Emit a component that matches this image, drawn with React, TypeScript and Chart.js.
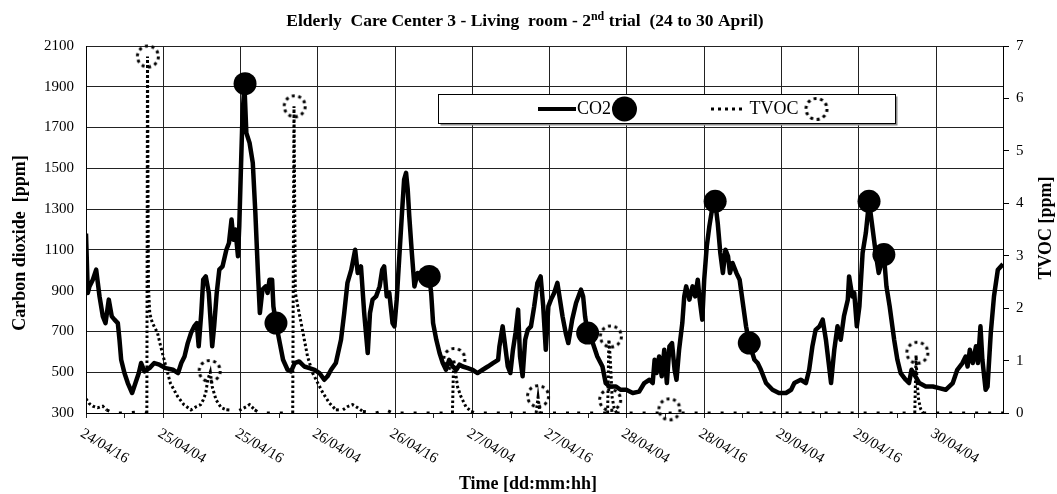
import { useEffect, useRef } from 'react';
import { Chart, registerables } from 'chart.js';

Chart.register(...registerables);

const FONT = '"Liberation Serif", "Times New Roman", serif';

// Hours since 24/04 16:00
const co2Hours = [
  0, 0.28, 0.54, 1.06, 1.58, 2.1, 2.61, 3.03, 3.54, 4.0, 4.42, 4.94, 5.2, 5.46, 5.97, 6.49, 7.16, 7.68, 8.2, 8.56,
  9.08, 9.86, 10.6, 11.4, 12.4, 13.5, 14.3, 14.8, 15.3, 15.8, 16.3, 16.8, 17.2, 17.5, 17.9, 18.2, 18.6, 19.07, 19.6, 19.9,
  20.3, 20.7, 21.2, 21.8, 22.2, 22.6, 22.9, 23.2, 23.6, 23.8, 24.1, 24.3, 24.6, 24.9, 25.4, 25.9, 26.3, 26.7, 27.0, 27.4,
  27.9, 28.2, 28.5, 28.9, 29.1, 29.5, 30.0, 30.6, 31.3, 31.85, 32.4, 33.1, 33.9, 34.7, 35.5, 36.25, 37.0, 37.5, 38.06, 38.8,
  39.6, 40.1, 40.6, 41.2, 41.8, 42.2, 42.7, 43.2, 43.75, 44.1, 44.5, 45.05, 45.6, 46.0, 46.3, 46.7, 47.1, 47.6, 47.9, 48.25,
  48.66, 49.07, 49.4, 49.7, 49.96, 50.2, 50.6, 51.0, 51.5, 52.05, 52.6, 53.3, 53.6, 53.9, 54.4, 54.9, 55.4, 55.9, 56.4, 56.95,
  57.5, 58.0, 58.5, 59.3, 60.0, 60.8, 61.6, 62.4, 63.2, 64.0, 64.2, 64.7, 65.1, 65.5, 65.9, 66.3, 66.7, 67.1, 67.4, 67.8,
  68.2, 68.6, 69.1, 69.6, 70.1, 70.6, 71.0, 71.4, 71.8, 72.2, 72.7, 73.2, 73.6, 74.0, 74.5, 74.9, 75.5, 76.1, 76.86, 77.2,
  77.5, 77.9, 78.7, 79.4, 80.2, 80.7, 81.3, 82.3, 83.0, 83.9, 84.9, 85.9, 86.7, 87.5, 88.0, 88.3, 88.6, 89.0, 89.4, 89.8,
  90.2, 90.6, 91.0, 91.4, 91.7, 92.1, 92.6, 92.9, 93.2, 93.7, 94.2, 94.6, 95.0, 95.3, 95.7, 96.0, 96.4, 96.8, 97.3, 97.7,
  98.1, 98.5, 98.9, 99.3, 99.7, 100.0, 100.4, 101.0, 101.5, 102.0, 102.5, 103.0, 103.8, 104.3, 104.8, 105.6, 106.6, 107.6, 108.7, 109.5,
  110.0, 111.0, 111.8, 112.3, 112.8, 113.3, 113.9, 114.4, 114.9, 115.7, 116.2, 116.7, 117.2, 117.7, 118.3, 118.5, 119.0, 119.3, 119.7, 120.1,
  120.6, 121.1, 121.6, 122.1, 122.7, 123.1, 123.9, 124.3, 124.8, 125.5, 126.0, 126.5, 127.3, 127.8, 128.2, 128.8, 129.4, 130.4, 131.5, 132.5,
  133.5, 134.6, 135.3, 136.1, 136.6, 136.9, 137.25, 137.7, 138.2, 138.5, 138.9, 139.2, 139.7, 140.0, 140.5, 141.0, 141.6, 142.4,
];
const co2Values = [
  1180, 889, 921, 954, 1003, 872, 774, 741, 856, 774, 758, 741, 659, 561, 496, 447, 398, 447, 496, 545,
  504, 520, 545, 537, 520, 512, 496, 545, 577, 643, 692, 725, 741, 627, 790, 954, 970, 889, 627, 725,
  889, 1003, 1019, 1101, 1134, 1249, 1150, 1200, 1069, 1216, 1543, 1756, 1910, 1674, 1625, 1527, 1282, 987, 790, 905,
  921, 889, 954, 954, 823, 741, 659, 561, 512, 504, 545, 553, 528, 520, 512, 496, 463, 480, 512, 545,
  659, 790, 938, 1003, 1101, 987, 1019, 790, 594, 790, 856, 872, 921, 1003, 1019, 872, 889, 741, 725, 856,
  1069, 1282, 1445, 1478, 1396, 1265, 1085, 921, 987, 954, 987, 970, 889, 741, 659, 594, 545, 512, 561, 528,
  512, 537, 528, 520, 512, 496, 512, 528, 545, 561, 627, 725, 627, 528, 496, 610, 692, 807, 577, 480,
  659, 708, 725, 823, 938, 970, 823, 610, 823, 856, 889, 938, 856, 774, 692, 643, 758, 839, 905, 872,
  774, 692, 643, 577, 528, 447, 430, 430, 414, 414, 398, 405, 447, 463, 447, 561, 496, 577, 480, 610,
  447, 627, 643, 512, 463, 610, 741, 872, 921, 856, 921, 872, 954, 856, 758, 954, 1118, 1216, 1314, 1338,
  1232, 1085, 987, 1101, 1069, 987, 1036, 987, 954, 839, 725, 643, 561, 545, 512, 447, 414, 398, 398, 414,
  447, 463, 447, 512, 627, 708, 725, 758, 659, 447, 610, 725, 659, 774, 856, 970, 872, 889, 725, 823,
  1085, 1183, 1338, 1216, 1069, 987, 1077, 921, 823, 659, 561, 496, 463, 447, 512, 480, 447, 430, 430, 422,
  414, 447, 512, 545, 577, 528, 610, 545, 627, 545, 725, 561, 414, 430, 692, 872, 1003, 1030,
];

const tvocHours = [
  0, 0.5, 1.06, 1.8, 2.6, 3.2, 4.2, 6.0, 8.3, 9.3, 9.45, 9.55, 9.7, 9.9, 10.3, 11.1, 11.6, 12.4, 13.1, 14.2,
  15.2, 16.3, 17.1, 17.8, 18.2, 18.6, 18.9, 19.3, 19.6, 20.2, 21.0, 21.8, 22.8, 23.8, 24.9, 25.4, 26.2, 27.0, 32.1, 32.3,
  32.5, 32.9, 33.4, 33.9, 34.4, 35.2, 36.0, 36.8, 37.8, 38.8, 39.9, 40.6, 41.4, 42.2, 43.0, 45.0, 46.6, 47.6, 56.9, 57.1,
  57.4, 57.7, 58.2, 59.0, 59.8, 60.5, 69.9, 70.2, 70.5, 75.0, 75.3, 75.6, 81.0, 81.2, 81.4, 81.7, 82.0, 82.4, 128.7, 128.9,
  129.05, 129.3, 129.6, 130.0, 142.4,
];
const tvocValues = [
  0.27, 0.18, 0.13, 0.1, 0.13, 0.06, 0.0, 0.0, 0.02, 0.0, 0.0, 6.8, 2.4, 1.9, 1.72, 1.53, 1.27, 0.89, 0.57, 0.32,
  0.16, 0.06, 0.12, 0.16, 0.25, 0.38, 0.63, 0.78, 0.5, 0.25, 0.1, 0.06, 0.05, 0.05, 0.12, 0.16, 0.06, 0.0, 0.0, 5.85,
  2.3, 2.03, 1.72, 1.4, 1.08, 0.76, 0.57, 0.38, 0.19, 0.06, 0.06, 0.12, 0.16, 0.1, 0.03, 0.0, 0.06, 0.0, 0.0, 1.02,
  0.76, 0.5, 0.32, 0.12, 0.03, 0.0, 0.0, 0.3, 0.0, 0.0, 0.04, 0.0, 0.0, 1.4, 1.05, 0.3, 0.1, 0.0, 0.0, 1.1,
  0.6, 0.25, 0.08, 0.0, 0.0,
];

const co2MarkerHours = [24.7, 29.5, 53.3, 77.9, 97.7, 103.0, 121.6, 123.9];
const co2MarkerValues = [1915, 741, 970, 692, 1338, 643, 1338, 1077];
const tvocMarkerHours = [9.6, 19.2, 32.4, 57.2, 70.2, 81.5, 81.4, 90.6, 129.1];
const tvocMarkerValues = [6.8, 0.8, 5.85, 1.03, 0.32, 1.46, 0.25, 0.07, 1.15];

const xTickHours = [0, 6, 12, 18, 24, 30, 36, 42, 48, 54, 60, 66, 72, 78, 84, 90, 96, 102, 108, 114, 120, 126, 132, 138];
const xTickLabels = ['24/04/16', '25/04/04', '25/04/16', '26/04/04', '26/04/16', '27/04/04', '27/04/16', '28/04/04', '28/04/16', '29/04/04', '29/04/16', '30/04/04'];

const W = 1057;
const H = 494;

function makeDottedCircle(): HTMLCanvasElement {
  const c = document.createElement('canvas');
  c.width = 28;
  c.height = 28;
  const g = c.getContext('2d')!;
  g.strokeStyle = '#000';
  g.lineWidth = 3;
  g.setLineDash([3, 3.6]);
  g.beginPath();
  g.arc(14, 14, 10.5, 0, Math.PI * 2);
  g.stroke();
  return c;
}

export default function App() {
  const ref = useRef<HTMLCanvasElement>(null);

  useEffect(() => {
    const canvas = ref.current;
    if (!canvas) return;
    const dotted = makeDottedCircle();

    const co2 = co2Hours.map((h, i) => ({ x: h, y: co2Values[i] }));
    const tvoc = tvocHours.map((h, i) => ({ x: h, y: tvocValues[i] }));
    const co2Markers = co2MarkerHours.map((h, i) => ({ x: h, y: co2MarkerValues[i] }));
    const tvocMarkers = tvocMarkerHours.map((h, i) => ({ x: h, y: tvocMarkerValues[i] }));

    const decor = {
      id: 'decor',
      afterDraw(chart: any) {
        const ctx = chart.ctx as CanvasRenderingContext2D;
        const xs = chart.scales.x;
        ctx.save();
        ctx.fillStyle = '#000';

        // Title with superscript
        const p1 = 'Elderly  Care Center 3 - Living  room - 2';
        const sup = 'nd';
        const p2 = ' trial  (24 to 30 April)';
        const big = `bold 17.5px ${FONT}`;
        const small = `bold 12px ${FONT}`;
        ctx.font = big;
        const w1 = ctx.measureText(p1).width;
        const w2 = ctx.measureText(p2).width;
        ctx.font = small;
        const ws = ctx.measureText(sup).width;
        let tx = 525 - (w1 + ws + w2) / 2;
        const ty = 26;
        ctx.textBaseline = 'alphabetic';
        ctx.textAlign = 'left';
        ctx.font = big;
        ctx.fillText(p1, tx, ty);
        tx += w1;
        ctx.font = small;
        ctx.fillText(sup, tx, ty - 6.5);
        tx += ws;
        ctx.font = big;
        ctx.fillText(p2, tx, ty);

        // Axis titles
        ctx.font = `bold 18px ${FONT}`;
        ctx.textAlign = 'center';
        ctx.textBaseline = 'middle';
        ctx.save();
        ctx.translate(20, 243);
        ctx.rotate(-Math.PI / 2);
        ctx.fillText('Carbon dioxide  [ppm]', 0, 0);
        ctx.restore();
        ctx.save();
        ctx.translate(1046, 228);
        ctx.rotate(-Math.PI / 2);
        ctx.fillText('TVOC [ppm]', 0, 0);
        ctx.restore();
        ctx.fillText('Time [dd:mm:hh]', 528, 484);

        // Rotated x tick labels
        ctx.font = `15px ${FONT}`;
        ctx.textAlign = 'left';
        ctx.textBaseline = 'top';
        xTickLabels.forEach((lab, i) => {
          const px = xs.getPixelForValue(i * 12);
          ctx.save();
          ctx.translate(px - 0.5, 426);
          ctx.rotate((31 * Math.PI) / 180);
          ctx.fillText(lab, 0, 0);
          ctx.restore();
        });

        // Legend box
        const bx = 438.5, by = 94.5, bw = 457, bh = 29;
        ctx.fillStyle = '#8c8c8c';
        ctx.fillRect(bx + 2, by + 2, bw, bh);
        ctx.fillStyle = '#fff';
        ctx.fillRect(bx, by, bw, bh);
        ctx.strokeStyle = '#000';
        ctx.lineWidth = 1;
        ctx.strokeRect(bx, by, bw, bh);
        const ly = 109;
        ctx.beginPath();
        ctx.lineWidth = 4;
        ctx.moveTo(538, ly);
        ctx.lineTo(576, ly);
        ctx.stroke();
        ctx.fillStyle = '#000';
        ctx.font = `18px ${FONT}`;
        ctx.textBaseline = 'middle';
        ctx.fillText('CO2', 577, ly);
        ctx.beginPath();
        ctx.arc(624.5, ly, 12.5, 0, Math.PI * 2);
        ctx.fill();
        ctx.beginPath();
        ctx.lineWidth = 3;
        ctx.setLineDash([3, 4]);
        ctx.moveTo(711, ly);
        ctx.lineTo(746, ly);
        ctx.stroke();
        ctx.setLineDash([]);
        ctx.fillText('TVOC', 749.5, ly);
        ctx.drawImage(dotted, 816.5 - 14, ly - 14);
        ctx.restore();
      },
    };

    const chart = new Chart(canvas, {
      type: 'line',
      data: {
        datasets: [
          {
            label: 'CO2 markers',
            data: co2Markers,
            yAxisID: 'y',
            showLine: false,
            pointRadius: 11.5,
            pointBackgroundColor: '#000',
            pointBorderWidth: 0,
            clip: false,
            order: 0,
          },
          {
            label: 'CO2',
            data: co2,
            yAxisID: 'y',
            borderColor: '#000',
            borderWidth: 4.5,
            borderJoinStyle: 'round',
            pointRadius: 0,
            tension: 0,
            order: 1,
          },
          {
            label: 'TVOC markers',
            data: tvocMarkers,
            yAxisID: 'y1',
            showLine: false,
            pointStyle: dotted,
            pointRadius: 12,
            clip: false,
            order: 2,
          },
          {
            label: 'TVOC',
            data: tvoc,
            yAxisID: 'y1',
            borderColor: '#000',
            borderWidth: 3,
            borderDash: [2.5, 2.5],
            pointRadius: 0,
            tension: 0,
            order: 3,
            segment: {
              borderDash: (c: any) =>
                Math.abs(c.p0.parsed.y) < 0.07 && Math.abs(c.p1.parsed.y) < 0.07 ? [3, 10] : [2.5, 2.5],
            },
          },
        ] as any,
      },
      options: {
        animation: false,
        responsive: false,
        maintainAspectRatio: false,
        events: [],
        layout: { padding: { top: 46, left: 0, right: 0, bottom: 0 } },
        plugins: {
          legend: { display: false },
          title: { display: false },
          tooltip: { enabled: false },
        },
        scales: {
          x: {
            type: 'linear',
            min: 0,
            max: 142.4,
            afterBuildTicks: (s: any) => {
              s.ticks = xTickHours.map((v) => ({ value: v }));
            },
            ticks: { display: false },
            grid: {
              color: (c: any) => (c.tick && c.tick.value % 12 === 0 ? '#222' : 'rgba(0,0,0,0)'),
              tickColor: '#222',
              tickLength: 5,
              lineWidth: 1,
            },
            border: { color: '#000' },
            afterFit: (s: any) => {
              s.height = H - 413;
            },
          },
          y: {
            position: 'left',
            min: 300,
            max: 2100,
            ticks: {
              stepSize: 200,
              color: '#000',
              font: { family: FONT, size: 15 },
              padding: 12,
              callback: (v: any) => String(v),
            },
            grid: { color: '#222', drawTicks: false },
            border: { color: '#000' },
            afterFit: (s: any) => {
              s.width = 86;
            },
          },
          y1: {
            position: 'right',
            min: 0,
            max: 7,
            ticks: {
              stepSize: 1,
              color: '#000',
              font: { family: FONT, size: 15 },
              padding: 7,
              callback: (v: any) => String(v),
            },
            grid: { drawOnChartArea: false, tickLength: 6, color: '#000' },
            border: { color: '#000' },
            afterFit: (s: any) => {
              s.width = W - 1003;
            },
          },
        },
      } as any,
      plugins: [decor],
    });
    return () => chart.destroy();
  }, []);

  return (
    <div style={{ position: 'absolute', left: 0, top: 0, width: W, height: H, background: '#fff' }}>
      <canvas ref={ref} width={W} height={H} style={{ display: 'block', width: W, height: H }} />
    </div>
  );
}
